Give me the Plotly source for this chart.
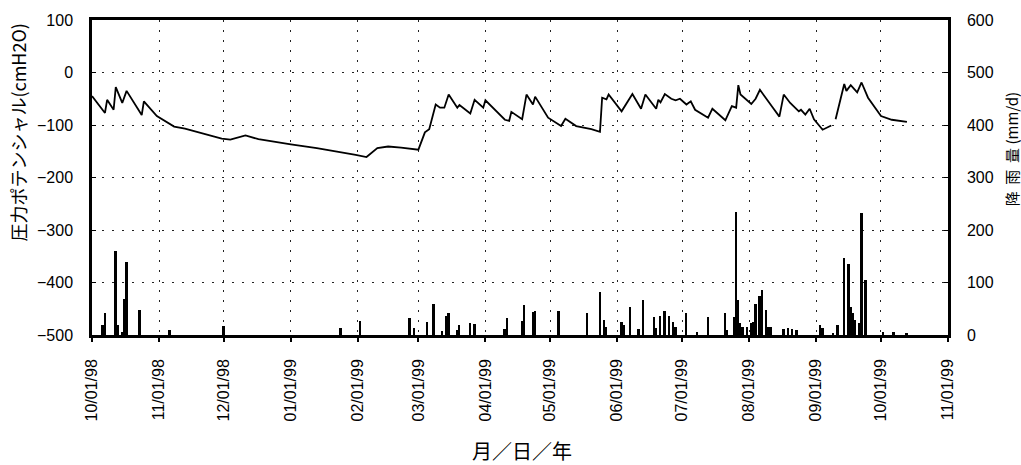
import plotly.graph_objects as go

# ---- data ----
pressure_dates = [
    "1998-10-01", "1998-10-07", "1998-10-08", "1998-10-11", "1998-10-12", "1998-10-15",
    "1998-10-17", "1998-10-24", "1998-10-25", "1998-10-31", "1998-11-08", "1998-11-13",
    "1998-11-30", "1998-12-04", "1998-12-11", "1998-12-17", "1999-01-01", "1999-01-13",
    "1999-01-31", "1999-02-05", "1999-02-10", "1999-02-15", "1999-02-21", "1999-03-01",
    "1999-03-04", "1999-03-06", "1999-03-09", "1999-03-11", "1999-03-13", "1999-03-15",
    "1999-03-19", "1999-03-20", "1999-03-25", "1999-03-27", "1999-03-31", "1999-04-01",
    "1999-04-10", "1999-04-12", "1999-04-13", "1999-04-18", "1999-04-20", "1999-04-23",
    "1999-04-24", "1999-04-30", "1999-05-06", "1999-05-08", "1999-05-13", "1999-05-20",
    "1999-05-24", "1999-05-25", "1999-05-27", "1999-05-28", "1999-06-03", "1999-06-06",
    "1999-06-08", "1999-06-12", "1999-06-14", "1999-06-19", "1999-06-20", "1999-06-21",
    "1999-06-23", "1999-06-26", "1999-06-28", "1999-06-30", "1999-07-03", "1999-07-05",
    "1999-07-07", "1999-07-13", "1999-07-15", "1999-07-21", "1999-07-24", "1999-07-26",
    "1999-07-27", "1999-07-28", "1999-08-02", "1999-08-04", "1999-08-06", "1999-08-12",
    "1999-08-15", "1999-08-17", "1999-08-20", "1999-08-24", "1999-08-25", "1999-08-27",
    "1999-08-29", "1999-08-31", "1999-09-04", "1999-09-08", "1999-09-09", "1999-09-10",
    "1999-09-12", "1999-09-14", "1999-09-15", "1999-09-17", "1999-09-20", "1999-09-22",
    "1999-09-25", "1999-10-01", "1999-10-06", "1999-10-13",
]
pressure_values = [
    -45, -77, -52, -71, -28, -58,
    -35, -81, -55, -83, -103, -107,
    -126, -128, -120, -127, -137, -144,
    -157, -161, -144, -141, -143, -147,
    -114, -108, -61, -67, -67, -42,
    -67, -62, -78, -52, -67, -53,
    -90, -92, -75, -89, -42, -61,
    -46, -86, -102, -88, -102, -108,
    -113, -48, -51, -42, -74, -53,
    -41, -69, -42, -69, -52, -57,
    -41, -50, -53, -50, -61, -55,
    -71, -86, -69, -91, -64, -67,
    -24, -42, -60, -50, -33, -67,
    -84, -42, -58, -74, -71, -80,
    -69, -89, -109, -101, None, -89,
    -55, -22, -35, -24, -38, -19,
    -48, -83, -90, -94,
]

rain_dates = [
    "1998-10-06", "1998-10-07", "1998-10-12", "1998-10-13", "1998-10-15", "1998-10-16",
    "1998-10-17", "1998-10-23", "1998-11-06", "1998-12-01", "1999-01-24", "1999-02-02",
    "1999-02-25", "1999-02-27", "1999-03-05", "1999-03-08", "1999-03-12", "1999-03-14",
    "1999-03-15", "1999-03-19", "1999-03-20", "1999-03-25", "1999-03-27", "1999-04-10",
    "1999-04-11", "1999-04-18", "1999-04-19", "1999-04-23", "1999-04-24", "1999-05-05",
    "1999-05-18", "1999-05-24", "1999-05-26", "1999-05-27", "1999-06-03", "1999-06-04",
    "1999-06-07", "1999-06-11", "1999-06-13", "1999-06-18", "1999-06-19", "1999-06-21",
    "1999-06-23", "1999-06-25", "1999-06-27", "1999-06-28", "1999-07-03", "1999-07-08",
    "1999-07-13", "1999-07-21", "1999-07-22", "1999-07-25", "1999-07-26", "1999-07-27",
    "1999-07-28", "1999-07-29", "1999-07-31", "1999-08-02", "1999-08-03", "1999-08-04",
    "1999-08-06", "1999-08-07", "1999-08-09", "1999-08-10", "1999-08-11", "1999-08-17",
    "1999-08-19", "1999-08-21", "1999-08-23", "1999-09-03", "1999-09-04", "1999-09-09",
    "1999-09-11", "1999-09-14", "1999-09-16", "1999-09-17", "1999-09-18", "1999-09-19",
    "1999-09-21", "1999-09-22", "1999-09-24", "1999-10-02", "1999-10-07", "1999-10-13",
]
rain_values = [
    19, 41, 160, 19, 6, 68,
    140, 47, 9, 17, 13, 26,
    32, 13, 25, 60, 8, 36,
    41, 9, 19, 23, 21, 11,
    32, 26, 58, 43, 45, 45,
    41, 81, 28, 15, 25, 19,
    53, 11, 66, 34, 13, 36,
    45, 36, 25, 15, 41, 6,
    34, 41, 9, 34, 235, 66,
    22, 15, 15, 22, 25, 60,
    75, 85, 47, 15, 15, 11,
    13, 12, 10, 19, 13, 4,
    19, 147, 135, 53, 41, 28,
    22, 233, 105, 6, 6, 4,
]

month_ticks = [
    "1998-10-01", "1998-11-01", "1998-12-01", "1999-01-01", "1999-02-01", "1999-03-01",
    "1999-04-01", "1999-05-01", "1999-06-01", "1999-07-01", "1999-08-01", "1999-09-01",
    "1999-10-01", "1999-11-01",
]
month_labels = [
    "10/01/98", "11/01/98", "12/01/98", "01/01/99", "02/01/99", "03/01/99",
    "04/01/99", "05/01/99", "06/01/99", "07/01/99", "08/01/99", "09/01/99",
    "10/01/99", "11/01/99",
]
pressure_ticks = [100, 0, -100, -200, -300, -400, -500]
rain_ticks = [600, 500, 400, 300, 200, 100, 0]

# ---- figure ----
W, H = 1021, 465
ML, MR, MT, MB = 92, 73, 16, 130
PW, PH = W - ML - MR, H - MT - MB

def px(x):
    return (x - ML) / PW

def py(y):
    return 1 - (y - MT) / PH

DAY_MS = 86400000

fig = go.Figure()
fig.add_trace(go.Bar(
    x=rain_dates, y=rain_values, yaxis="y2",
    width=DAY_MS * 0.9,
    marker=dict(color="black", line=dict(width=0)),
    showlegend=False,
))
fig.add_trace(go.Scatter(
    x=pressure_dates, y=pressure_values, mode="lines",
    line=dict(color="black", width=1.8),
    connectgaps=False, showlegend=False,
))

tick_font = dict(family="Liberation Sans, Arial, sans-serif", size=16, color="black")
grid_style = dict(showgrid=True, gridcolor="#222222", gridwidth=1.3, griddash="2px,8px")

fig.update_layout(
    width=W, height=H,
    margin=dict(l=ML, r=MR, t=MT, b=MB, pad=0),
    paper_bgcolor="white", plot_bgcolor="white",
    bargap=0,
    xaxis=dict(
        type="date",
        range=["1998-10-01", "1999-11-01"],
        tickvals=month_ticks, ticktext=month_labels,
        tickangle=-90,
        tickfont=dict(family="Liberation Sans, Arial, sans-serif", size=16, color="black"),
        ticks="outside", ticklen=4, tickcolor="black", tickwidth=1.5,
        ticklabelstandoff=11,
        showline=True, linecolor="black", linewidth=2.5, mirror=True,
        zeroline=False,
        **grid_style,
    ),
    yaxis=dict(
        range=[-500, 100],
        tickvals=pressure_ticks,
        tickfont=tick_font,
        ticks="inside", ticklen=4, tickcolor="black",
        ticklabelstandoff=13,
        showline=True, linecolor="black", linewidth=2.5, mirror=True,
        zeroline=False,
        **grid_style,
    ),
    yaxis2=dict(
        range=[0, 600],
        tickvals=rain_ticks,
        tickfont=tick_font,
        overlaying="y", side="right",
        ticks="inside", ticklen=4, tickcolor="black",
        ticklabelstandoff=13,
        showline=True, linecolor="black", linewidth=2.5,
        showgrid=False, zeroline=False,
    ),
    annotations=[
        dict(text="圧力ポテンシャル(cmH2O)", xref="paper", yref="paper",
             x=px(18), y=py(130), xanchor="center", yanchor="middle",
             textangle=-90, showarrow=False,
             font=dict(family="Noto Sans CJK JP, sans-serif", size=18, color="black")),
        dict(text="降\u00a0\u00a0雨\u00a0\u00a0量\u00a0(mm/d)", xref="paper", yref="paper",
             x=px(1011), y=py(147), xanchor="center", yanchor="middle",
             textangle=-90, showarrow=False,
             font=dict(family="Noto Sans CJK JP, sans-serif", size=15, color="black")),
        dict(text="月／日／年", xref="paper", yref="paper",
             x=px(522), y=py(452), xanchor="center", yanchor="middle",
             showarrow=False,
             font=dict(family="Noto Sans CJK JP, sans-serif", size=20, color="black")),
    ],
)

fig.write_html("out.html")
